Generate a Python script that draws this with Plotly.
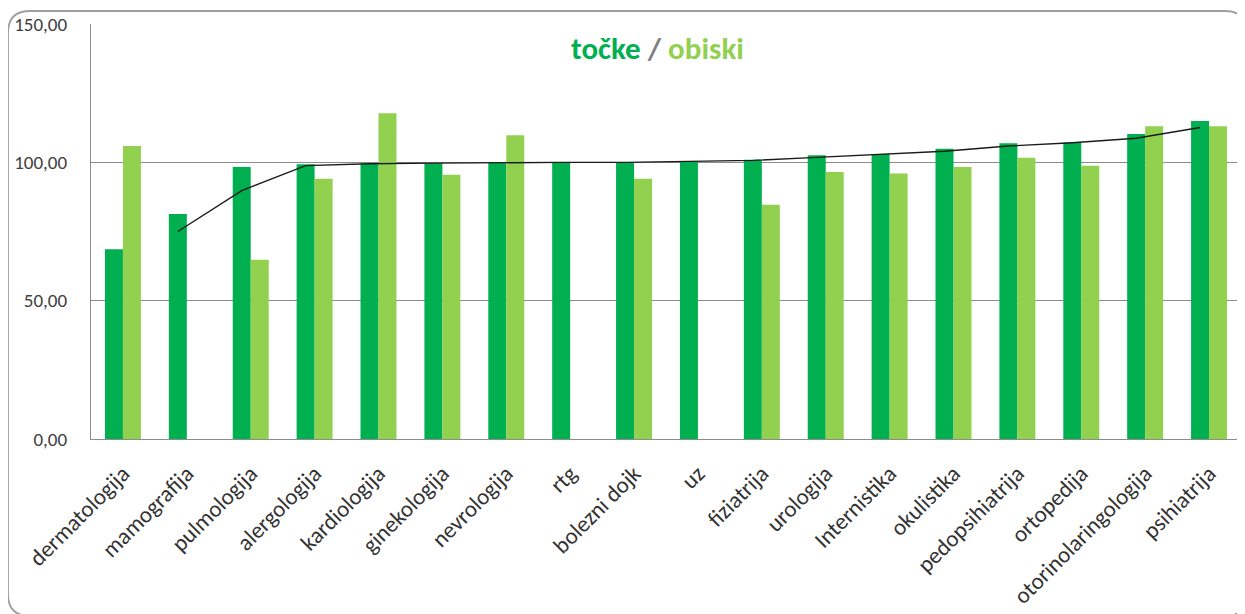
import plotly.graph_objects as go

categories = ["dermatologija", "mamografija", "pulmologija", "alergologija", "kardiologija",
              "ginekologija", "nevrologija", "rtg", "bolezni dojk", "uz", "fiziatrija",
              "urologija", "Internistika", "okulistika", "pedopsihiatrija", "ortopedija",
              "otorinolaringologija", "psihiatrija"]
tocke = [68.6, 81.3, 98.3, 99.3, 99.6, 99.7, 100.0, 100.0, 100.1, 100.5, 100.9,
         102.6, 103.0, 104.9, 106.9, 107.2, 110.2, 114.9]
obiski = [105.9, None, 64.8, 94.1, 117.7, 95.5, 109.8, None, 94.1, None, 84.7,
          96.5, 96.0, 98.3, 101.7, 98.8, 113.0, 113.0]
trend = [None, 75.0, 89.8, 98.8, 99.5, 99.7, 99.9, 100.0, 100.0, 100.3, 100.7,
         101.8, 102.8, 104.0, 105.9, 107.1, 108.7, 112.6]
y_ticks = [0, 50, 100, 150]
y_ticktext = ["0,00", "50,00", "100,00", "150,00"]

DARK = "#00B050"
LIGHT = "#92D050"
GRID = "#8C8C8C"
FONT = "Carlito, Lato, sans-serif"

# page body has an 8px default margin; the figure is sized to fit inside the window
OX, OY = 8, 8
W, H = 1245 - OX, 614 - OY
L, R, T, B = 91 - OX, 4, 24 - OY, 614 - 439
BARGAP = 0.437

xs = list(range(len(categories)))
offset = (1 - BARGAP) / 4.0
trend_x = [x - offset for x in xs]

fig = go.Figure()
fig.add_trace(go.Bar(x=xs, y=tocke, name="točke", marker=dict(color=DARK, line=dict(width=0))))
fig.add_trace(go.Bar(x=xs, y=obiski, name="obiski", marker=dict(color=LIGHT, line=dict(width=0))))
fig.add_trace(go.Scatter(x=trend_x, y=trend, mode="lines", line=dict(color="#1a1a1a", width=1.4),
                         showlegend=False, hoverinfo="skip"))

pw = W - L - R
ph = H - T - B


def px(x):
    # screen pixel -> paper coordinate
    return (x - OX - L) / pw


def py(y):
    return (H - B - (y - OY)) / ph


# rounded outer border (screen pixel geometry converted to paper coordinates)
left, top, right, bottom, r = 8, 11, 1247, 616, 22
path = (f"M {px(left + r)},{py(top)} L {px(right - r)},{py(top)} "
        f"Q {px(right)},{py(top)} {px(right)},{py(top + r)} "
        f"L {px(right)},{py(bottom - r)} Q {px(right)},{py(bottom)} {px(right - r)},{py(bottom)} "
        f"L {px(left + r)},{py(bottom)} Q {px(left)},{py(bottom)} {px(left)},{py(bottom - r)} "
        f"L {px(left)},{py(top + r)} Q {px(left)},{py(top)} {px(left + r)},{py(top)} Z")

fig.update_layout(
    width=W, height=H,
    margin=dict(l=L, r=R, t=T, b=B, pad=0, autoexpand=False),
    paper_bgcolor="white", plot_bgcolor="white",
    barmode="group", bargap=BARGAP, bargroupgap=0,
    showlegend=False,
    font=dict(family=FONT, size=20, color="#404040"),
    shapes=[dict(type="path", path=path, xref="paper", yref="paper",
                 line=dict(color="#9E9E9E", width=1.8), fillcolor="rgba(0,0,0,0)", layer="below")],
    annotations=[dict(
        x=px(657), y=py(48), xref="paper", yref="paper", showarrow=False,
        xanchor="center", yanchor="middle",
        text=(f"<b><span style='color:{DARK}'>točke</span> "
              f"<span style='color:#7F7F7F'>/</span> "
              f"<span style='color:{LIGHT}'>obiski</span></b>"),
        font=dict(family=FONT, size=31),
    )],
)
fig.update_xaxes(
    range=[-0.5, len(categories) - 0.5], automargin=False,
    tickmode="array", tickvals=xs, ticktext=categories, tickangle=-45,
    showline=True, linecolor=GRID, linewidth=1.2, showgrid=False, zeroline=False,
    ticks="", ticklabelstandoff=11,
    tickfont=dict(family=FONT, size=23, color="#333333"),
)
fig.update_yaxes(
    range=[0, 150], tickmode="array", tickvals=y_ticks, ticktext=y_ticktext, automargin=False,
    showline=True, linecolor=GRID, linewidth=1.2, showgrid=True, gridcolor=GRID, gridwidth=1.2,
    zeroline=False, ticks="", ticklabelstandoff=19,
    tickfont=dict(family=FONT, size=19, color="#404040"),
)

fig.write_html("out.html")
